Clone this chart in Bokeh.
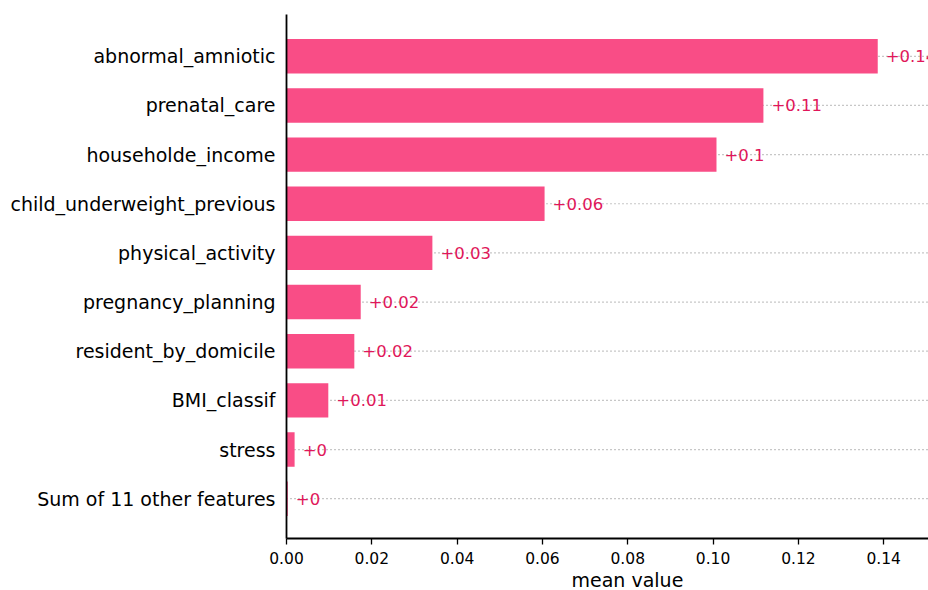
from bokeh.plotting import figure
from bokeh.models import Range1d, FixedTicker, ColumnDataSource, Title
from bokeh.core.properties import value
from bokeh.embed import file_html
from bokeh.resources import INLINE

features = ["abnormal_amniotic", "prenatal_care", "householde_income",
            "child_underweight_previous", "physical_activity", "pregnancy_planning",
            "resident_by_domicile", "BMI_classif", "stress", "Sum of 11 other features"]
mean_values = [0.1386, 0.1118, 0.1008, 0.0605, 0.0342, 0.0174, 0.0159, 0.0098, 0.0019, 0.0003]
value_labels = ["+0.14", "+0.11", "+0.1", "+0.06", "+0.03", "+0.02", "+0.02", "+0.01", "+0", "+0"]
x_ticks = [0.0, 0.02, 0.04, 0.06, 0.08, 0.10, 0.12, 0.14]
x_tick_labels = ["0.00", "0.02", "0.04", "0.06", "0.08", "0.10", "0.12", "0.14"]
x_title = "mean value"

n = len(features)
ypos = [n - 1 - i for i in range(n)]
xmax = 0.1505
offset = xmax / 80

FONT = "DejaVu Sans"
BAR = "#F94D86"
TXT = "#E0175A"

p = figure(width=928, height=590, output_backend="svg", toolbar_location=None,
           x_range=Range1d(0, xmax), y_range=Range1d(-0.81, n - 1 + 0.85),
           min_border_left=286, min_border_right=0, min_border_top=14, min_border_bottom=0)
p.outline_line_color = None
p.xgrid.grid_line_color = None
p.ygrid.grid_line_color = None
p.background_fill_color = "white"
p.border_fill_color = "white"

# dotted guide lines
for y in ypos:
    p.line(x=[0, xmax], y=[y, y], line_color="#8f8f8f", line_width=1.2, line_dash="1 3")

src = ColumnDataSource(dict(y=ypos, v=mean_values, lab=value_labels,
                            tx=[v + offset for v in mean_values]))
p.hbar(y="y", right="v", left=0, height=0.7, source=src, fill_color=BAR, line_color=None)
p.text(x="tx", y="y", text="lab", source=src, text_font=value(FONT),
       text_font_size="16.5px", text_color=TXT, text_align="left", text_baseline="middle")

# axes
p.yaxis.ticker = FixedTicker(ticks=ypos)
p.yaxis.major_label_overrides = {y: f for y, f in zip(ypos, features)}
p.yaxis.major_tick_line_color = None
p.yaxis.minor_tick_line_color = None
p.yaxis.major_label_text_font = FONT
p.yaxis.major_label_text_font_size = "19px"
p.yaxis.major_label_text_color = "black"
p.yaxis.major_label_standoff = 5
p.yaxis.axis_line_color = "black"
p.yaxis.axis_line_width = 1.8

p.xaxis.ticker = FixedTicker(ticks=x_ticks)
p.xaxis.major_label_overrides = {t: l for t, l in zip(x_ticks, x_tick_labels)}
p.xaxis.minor_tick_line_color = None
p.xaxis.major_tick_out = 6
p.xaxis.major_tick_in = 0
p.xaxis.major_tick_line_color = "black"
p.xaxis.major_tick_line_width = 1.3
p.xaxis.major_label_text_font = FONT
p.xaxis.major_label_text_font_size = "15.5px"
p.xaxis.major_label_text_color = "black"
p.xaxis.major_label_standoff = 7
p.xaxis.axis_line_color = "black"
p.xaxis.axis_line_width = 1.8

# x-axis title placed below the axis, offset to match the reference
p.add_layout(Title(text=x_title, align="left", offset=285, standoff=0,
                   text_font=FONT, text_font_size="19px", text_font_style="normal",
                   text_color="black"), "below")

open("out.html", "w").write(file_html(p, INLINE))
